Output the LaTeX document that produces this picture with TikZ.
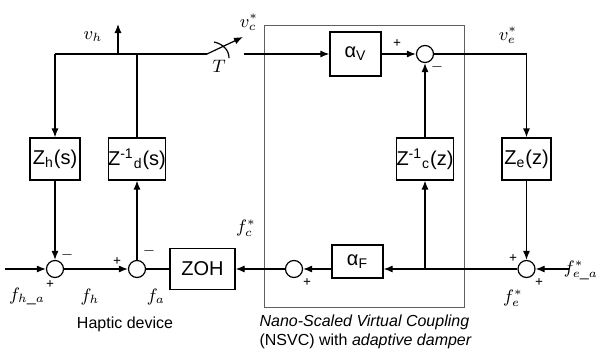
\documentclass[tikz,border=0pt]{standalone}
\usepackage{fontspec}
\setmainfont{Liberation Serif}
\setsansfont{Liberation Sans}
\usepackage{tikz}
\usetikzlibrary{arrows.meta, positioning, calc}
\definecolor{cFrame}{RGB}{95,95,95}
\tikzset{
	blk/.style  ={rectangle, draw=black, minimum height=21pt, inner sep=0pt, align=center, font=\sffamily},
	sumj/.style ={circle, draw=black, minimum size=8.5pt, inner sep=0pt},
	sig/.style  ={-{Latex[length=4.5pt, width=3.5pt]}},
	sgn/.style  ={font=\scriptsize\bfseries, inner sep=0pt},
	lbl/.style  ={font=\small, inner sep=0pt},
	% frame of the coupling part
	frame/.style={draw=cFrame, line width=0.5pt},
}

\begin{document}
\begin{tikzpicture}[x=0.5pt, y=-0.5pt, line width=0.6pt]
	\useasboundingbox (0,0) rectangle (601,354);
	\draw[frame] (264,25) rectangle (464,307);
	% blocks
	\node[blk, minimum width=25pt] (Zh) at (55,159) {Z\textsubscript{h}(s)};
	\node[blk, minimum width=28.5pt] (Zd) at (137,159) {Z\textsuperscript{-1}\textsubscript{d}(s)};
	\node[blk, minimum width=28.5pt] (Zc) at (425,159) {Z\textsuperscript{-1}\textsubscript{c}(z)};
	\node[blk, minimum width=24.5pt] (Ze) at (526.5,159) {Z\textsubscript{e}(z)};
	\node[blk, minimum width=25.5pt, minimum height=22pt] (aV) at (355.5,54) {α\textsubscript{V}};
	\node[blk, minimum width=25.5pt, minimum height=16.5pt] (aF) at (357.5,261.5) {α\textsubscript{F}};
	\node[blk, minimum width=32.5pt, minimum height=20.5pt] (zoh) at (202.5,269) {ZOH};
	% summing junctions
	\node[sumj] (s1) at (55,269) {};
	\node[sumj] (s2) at (137,269) {};
	\node[sumj] (s3) at (294,269) {};
	\node[sumj] (s4) at (526.5,269) {};
	\node[sumj] (sv) at (425,54) {};
	% free ends and branch points
	\coordinate (tl) at (55,54);
	\coordinate (jv) at (118,54);
	\coordinate (vtop) at (118,24);
	\coordinate (jd) at (137,54);
	\coordinate (sw) at (207,54);
	\coordinate (swtip) at (243,37);
	\coordinate (sw2) at (244,54);
	\coordinate (fin) at (5,269);
	\coordinate (fea) at (569,269);
	\coordinate (jc) at (425,269);
	% haptic side
	\draw (tl) -- (sw);
	\draw[sig] (jv) -- (vtop);
	\draw[sig] (tl) -- (Zh);
	\draw[sig] (Zh) -- (s1);
	\draw (Zd) -- (jd);
	\draw[sig] (s2) -- (Zd);
	\draw[sig] (fin) -- (s1);
	\draw[sig] (s1) -- (s2);
	\draw (zoh) -- (s2);
	% sampler switch
	\draw[sig] (sw) -- (swtip);
	\draw (214,42) .. controls (223,44) and (229,50) .. (229,58);
	% coupling side
	\draw[sig] (sw2) -- (aV);
	\draw[sig] (aV) -- (sv);
	\draw[sig] (Zc) -- (sv);
	\draw[sig] (jc) -- (Zc);
	\draw[sig] (sv) -| (Ze);
	\draw[sig] (Ze) -- (s4);
	\draw[sig] (fea) -- (s4);
	\draw[sig] (s4) -- (aF.east |- s4);
	\draw[sig] (aF.west |- s3) -- (s3);
	\draw[sig] (s3) -- (zoh);
	% signal labels
	\node[lbl] (lvh) at (93,37) {$v_h$};
	\node[lbl] (lvc) at (249,22) {$v^{*}_{c}$};
	\node[lbl] (lT) at (219,66) {$T$};
	\node[lbl] (lve) at (508,35) {$v^{*}_{e}$};
	\node[lbl] (lfc) at (246,228) {$f^{*}_{c}$};
	\node[lbl] (lfha) at (27,296) {$f_{h\_a}$};
	\node[lbl] (lfh) at (90,297) {$f_h$};
	\node[lbl] (lfa) at (156,297) {$f_a$};
	\node[lbl] (lfe) at (513,298) {$f^{*}_{e}$};
	\node[lbl] (lfea) at (581,270) {$f^{*}_{e\_a}$};
	% signs
	\node[sgn] at (50,285) {+};
	\node[sgn] at (67,255) {$-$};
	\node[sgn] at (117,262) {+};
	\node[sgn] at (149,251) {$-$};
	\node[sgn] at (307,283) {+};
	\node[sgn] at (397,44) {+};
	\node[sgn] at (437,67) {$-$};
	\node[sgn] at (513,259) {+};
	\node[sgn] at (539,283) {+};
	% captions
	\node[font=\footnotesize\sffamily] (cap1) at (125,324) {Haptic device};
	\node[font=\footnotesize\sffamily, align=left, anchor=west, inner sep=0pt] (cap2) at (259,332)
		{\textit{Nano-Scaled Virtual Coupling}\\(NSVC) with \textit{adaptive damper}};
\end{tikzpicture}
\end{document}
